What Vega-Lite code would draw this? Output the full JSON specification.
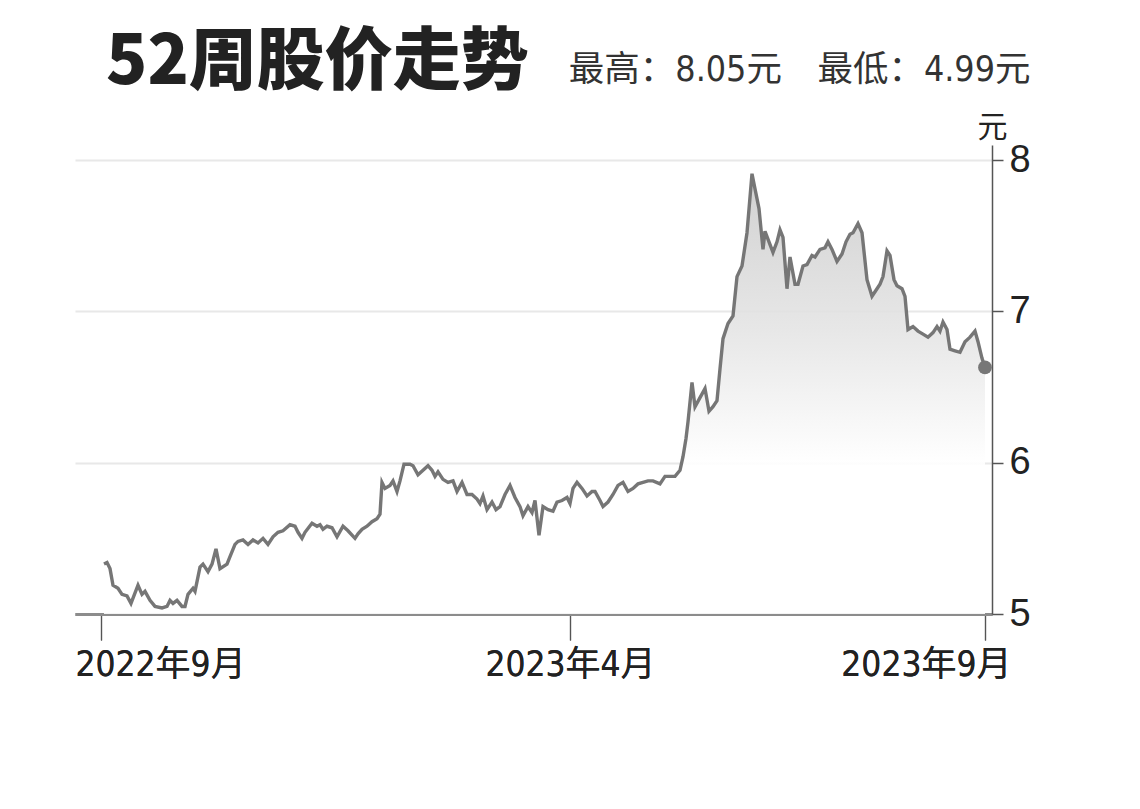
{
  "$schema": "https://vega.github.io/schema/vega-lite/v6.json",
  "width": 917,
  "height": 469,
  "padding": {"left": 75, "top": 30, "right": 0, "bottom": 0},
  "background": "white",
  "title": {"text": "52周股价走势", "anchor": "start", "frame": "group", "dx": 31, "fontSize": 68, "font": "Noto Sans CJK SC", "fontWeight": 900, "color": "#222222", "offset": -46},
  "config": {"view": {"stroke": null}},
  "data": {"values": [
    {"d":0.75,"p":5.33},{"d":1.5,"p":5.34},{"d":2.25,"p":5.30},{"d":3,"p":5.19},{"d":4.25,"p":5.17},{"d":5.25,"p":5.13},{"d":6.5,"p":5.12},{"d":7.5,"p":5.07},{"d":9.25,"p":5.19},{"d":10.25,"p":5.13},{"d":11,"p":5.15},{"d":12.25,"p":5.09},{"d":13.5,"p":5.05},{"d":15.25,"p":5.04},{"d":16.5,"p":5.05},{"d":17.25,"p":5.09},{"d":18,"p":5.07},{"d":19,"p":5.09},{"d":20.25,"p":5.05},{"d":21,"p":5.05},{"d":21.75,"p":5.13},{"d":23,"p":5.17},{"d":23.5,"p":5.15},{"d":24.75,"p":5.31},{"d":25.5,"p":5.33},{"d":26.75,"p":5.28},{"d":27.75,"p":5.33},{"d":28.75,"p":5.43},{"d":29.75,"p":5.30},{"d":31.5,"p":5.33},{"d":32.25,"p":5.38},{"d":33.5,"p":5.46},{"d":34.25,"p":5.48},{"d":35.5,"p":5.49},{"d":36.75,"p":5.46},{"d":38,"p":5.49},{"d":39.25,"p":5.47},{"d":40.5,"p":5.50},{"d":41.75,"p":5.46},{"d":43,"p":5.51},{"d":44.25,"p":5.54},{"d":45.5,"p":5.55},{"d":47.25,"p":5.59},{"d":48.5,"p":5.58},{"d":49.25,"p":5.54},{"d":50.25,"p":5.50},{"d":51,"p":5.54},{"d":52.75,"p":5.60},{"d":54,"p":5.58},{"d":54.75,"p":5.59},{"d":55.5,"p":5.56},{"d":56.5,"p":5.58},{"d":57.75,"p":5.57},{"d":59,"p":5.51},{"d":60.5,"p":5.58},{"d":61.75,"p":5.55},{"d":63.5,"p":5.50},{"d":64.25,"p":5.53},{"d":65.25,"p":5.56},{"d":66.5,"p":5.58},{"d":67.75,"p":5.61},{"d":69,"p":5.63},{"d":69.75,"p":5.66},{"d":70.25,"p":5.87},{"d":71,"p":5.83},{"d":72.25,"p":5.85},{"d":73,"p":5.88},{"d":74,"p":5.81},{"d":74.75,"p":5.88},{"d":75.75,"p":5.99},{"d":77.25,"p":5.99},{"d":78,"p":5.98},{"d":79.25,"p":5.92},{"d":80.5,"p":5.95},{"d":81.75,"p":5.98},{"d":82.75,"p":5.95},{"d":83.5,"p":5.91},{"d":84.25,"p":5.94},{"d":85.5,"p":5.89},{"d":86.75,"p":5.87},{"d":88,"p":5.88},{"d":89,"p":5.81},{"d":90.25,"p":5.87},{"d":91.5,"p":5.79},{"d":92.75,"p":5.79},{"d":94,"p":5.76},{"d":94.75,"p":5.73},{"d":95.5,"p":5.78},{"d":96.5,"p":5.69},{"d":97.75,"p":5.74},{"d":98.75,"p":5.69},{"d":99.75,"p":5.71},{"d":101,"p":5.79},{"d":102.25,"p":5.85},{"d":103.5,"p":5.77},{"d":104.75,"p":5.71},{"d":105.5,"p":5.65},{"d":106.75,"p":5.71},{"d":107.75,"p":5.67},{"d":108.5,"p":5.75},{"d":109.5,"p":5.52},{"d":110.5,"p":5.71},{"d":111.75,"p":5.69},{"d":113,"p":5.68},{"d":114,"p":5.74},{"d":115.25,"p":5.75},{"d":116.5,"p":5.77},{"d":117.25,"p":5.73},{"d":118,"p":5.83},{"d":119,"p":5.87},{"d":120.25,"p":5.83},{"d":121.5,"p":5.78},{"d":122.75,"p":5.81},{"d":123.5,"p":5.81},{"d":124.75,"p":5.75},{"d":125.5,"p":5.71},{"d":126.75,"p":5.74},{"d":128,"p":5.79},{"d":129.25,"p":5.85},{"d":130.5,"p":5.87},{"d":131.75,"p":5.81},{"d":133,"p":5.83},{"d":134.25,"p":5.86},{"d":135.5,"p":5.87},{"d":136.75,"p":5.88},{"d":138,"p":5.88},{"d":139.75,"p":5.86},{"d":141,"p":5.91},{"d":142.25,"p":5.91},{"d":143.5,"p":5.91},{"d":144.75,"p":5.95},{"d":145.5,"p":6.04},{"d":146.25,"p":6.16},{"d":146.75,"p":6.27},{"d":147.75,"p":6.53},{"d":148.5,"p":6.37},{"d":149.75,"p":6.43},{"d":151,"p":6.49},{"d":152,"p":6.34},{"d":153,"p":6.37},{"d":154,"p":6.41},{"d":154.75,"p":6.62},{"d":155.5,"p":6.82},{"d":156.75,"p":6.92},{"d":158,"p":6.97},{"d":159,"p":7.23},{"d":160.25,"p":7.30},{"d":161.5,"p":7.52},{"d":162.75,"p":7.91},{"d":163.5,"p":7.81},{"d":164.5,"p":7.68},{"d":165.5,"p":7.41},{"d":166,"p":7.53},{"d":167,"p":7.46},{"d":168,"p":7.39},{"d":169,"p":7.46},{"d":169.75,"p":7.54},{"d":170.5,"p":7.49},{"d":171.5,"p":7.15},{"d":172.25,"p":7.36},{"d":173.5,"p":7.18},{"d":174.25,"p":7.18},{"d":175.5,"p":7.30},{"d":176.5,"p":7.31},{"d":177.75,"p":7.37},{"d":178.5,"p":7.36},{"d":179.75,"p":7.41},{"d":181,"p":7.42},{"d":181.75,"p":7.46},{"d":182.75,"p":7.41},{"d":184,"p":7.33},{"d":185.25,"p":7.38},{"d":186.25,"p":7.46},{"d":187.25,"p":7.51},{"d":188,"p":7.52},{"d":189.25,"p":7.58},{"d":190.25,"p":7.52},{"d":191.5,"p":7.21},{"d":192.75,"p":7.10},{"d":193.5,"p":7.13},{"d":194.75,"p":7.18},{"d":195.5,"p":7.23},{"d":196.5,"p":7.40},{"d":197.25,"p":7.37},{"d":198.25,"p":7.21},{"d":199,"p":7.17},{"d":200.25,"p":7.15},{"d":201,"p":7.10},{"d":201.75,"p":6.88},{"d":203,"p":6.90},{"d":204.25,"p":6.87},{"d":205.5,"p":6.85},{"d":206.75,"p":6.83},{"d":208,"p":6.86},{"d":209,"p":6.90},{"d":209.75,"p":6.87},{"d":210.5,"p":6.93},{"d":211.5,"p":6.88},{"d":212.25,"p":6.75},{"d":213.5,"p":6.74},{"d":214.75,"p":6.73},{"d":216,"p":6.80},{"d":217.25,"p":6.83},{"d":218.5,"p":6.87},{"d":219.25,"p":6.80},{"d":220.25,"p":6.69},{"d":221,"p":6.63}
  ]},
  "encoding": {
    "x": {"field": "d", "type": "quantitative", "scale": {"domain": [-6.5, 222.75], "nice": false, "zero": false},
      "axis": {"orient": "bottom", "values": [0, 117.25, 221], "labelExpr": "datum.value == 0 ? '2022年9月' : datum.value < 200 ? '2023年4月' : '2023年9月'", "grid": false, "domainColor": "#8c8c8c", "domainWidth": 3, "tickColor": "#555555", "tickWidth": 1.2, "tickSize": 26, "labelPadding": 7, "labelFontSize": 35, "labelFont": "DejaVu Sans Condensed, Noto Sans CJK SC", "labelColor": "#222222", "labelLimit": 0, "labelFlush": 30, "labelFlushOffset": 26, "title": null}},
    "y": {"field": "p", "type": "quantitative", "scale": {"domain": [5, 8.1], "nice": false, "zero": false},
      "axis": {"orient": "right", "values": [5, 6, 7, 8], "grid": true, "gridColor": "#e8e8e8", "gridWidth": 2, "domainColor": "#555555", "domainWidth": 1.5, "tickColor": "#555555", "tickWidth": 1.5, "tickSize": 11, "labelPadding": 6, "labelFontSize": 38, "labelFont": "Liberation Sans, Noto Sans CJK SC", "labelColor": "#222222", "labelBaseline": "middle",
        "title": "元", "titleAngle": 0, "titleX": 0, "titleY": -18, "titleAlign": "center", "titleBaseline": "middle", "titleFontSize": 30, "titleFontWeight": "normal", "titleFont": "Noto Sans CJK SC", "titleColor": "#222222"}}
  },
  "layer": [
    {
      "mark": {"type": "area", "opacity": 0.9, "color": {"x1": 0, "y1": 0, "x2": 0, "y2": 1, "gradient": "linear", "stops": [{"offset": 0, "color": "#cccccc"}, {"offset": 0.35, "color": "#e4e4e4"}, {"offset": 0.66, "color": "#ffffff"}, {"offset": 1, "color": "#ffffff"}]}},
      "encoding": {"y2": {"datum": 5}}
    },
    {
      "mark": {"type": "line", "color": "#767676", "strokeWidth": 3.4}
    },
    {
      "transform": [{"filter": "datum.d == 221"}],
      "mark": {"type": "point", "filled": true, "color": "#777777", "opacity": 1, "size": 190},
      "encoding": {
        "x": {"field": "d", "type": "quantitative",
          "axis": {"orient": "top", "domain": false, "ticks": false, "labels": false, "grid": false, "title": "最高：8.05元　最低：4.99元", "titleX": 955, "titleY": -65, "titleAlign": "right", "titleBaseline": "alphabetic", "titleFontSize": 35.5, "titleFont": "DejaVu Sans Condensed, Noto Sans CJK SC", "titleFontWeight": "normal", "titleColor": "#333333"}}
      }
    }
  ]
}
